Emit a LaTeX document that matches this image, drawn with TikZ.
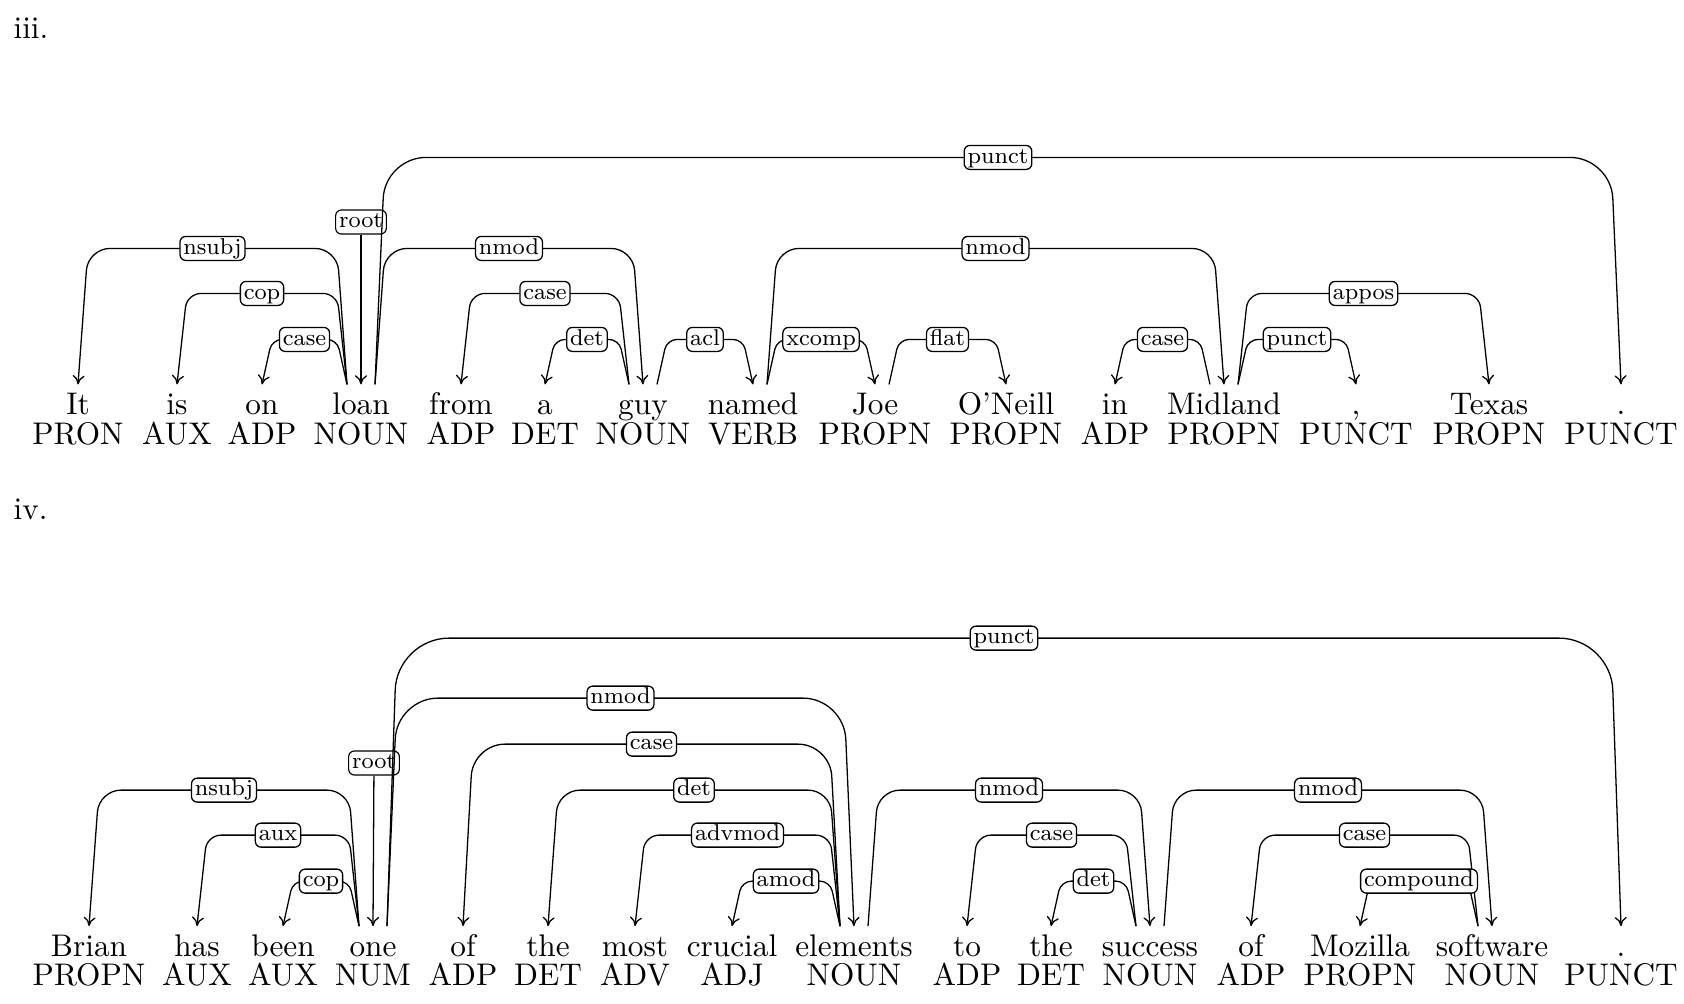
\documentclass[tikz,border=0pt]{standalone}
\usetikzlibrary{calc,arrows.meta}
\newcommand\depE[6]{\draw[dep, rounded corners=#6] ($(#1.north)+({#2*14},0)$) -- ++({#2*10},-#4) -- node[lab]{#5} ($(#3.north)+({#2*(-10)},-#4)$) -- (#3.north);}
\begin{document}
\begin{tikzpicture}[x=0.35pt,y=-0.35pt,
  wd/.style={inner sep=0pt, anchor=base, text height=10.43pt, font=\fontsize{10.95}{13.6}\selectfont},
  tg/.style={inner sep=0pt, anchor=base, font=\fontsize{10.95}{13.6}\selectfont},
  lab/.style={draw, fill=white, rounded corners=2pt, inner xsep=1.2pt, inner ysep=0.6pt,
    text height=5.6pt, text depth=1.6pt, font=\fontsize{8}{9.5}\selectfont},
  dep/.style={-{To[length=3.2pt,width=4.2pt]}, line width=0.45pt},
  num/.style={inner sep=0pt, anchor=base west, font=\fontsize{10.95}{13.6}\selectfont}]
\useasboundingbox (0,0) rectangle (1684,1004);
\node[num] (n1) at (13,39) {iii.};
\node[num] (n2) at (13,520) {iv.};
% row 1
\foreach \i/\x/\w/\t in {1/78/It/PRON,2/177/is/AUX,3/262/on/ADP,4/361/loan/NOUN,5/461/from/ADP,6/545/a/DET,7/643/guy/NOUN,8/753/named/VERB,9/875/Joe/PROPN,10/1006/O'Neill/PROPN,11/1115/in/ADP,12/1224/Midland/PROPN,13/1356/{,}/PUNCT,14/1489/Texas/PROPN,15/1621/./PUNCT}{
  \node[wd] (a\i) at (\x,414.8) {\w};
  \node[tg] (p\i) at (\x,444.3) {\t};
}
\node[lab] (r1) at (361,222) {root};
\draw[dep] (r1) -- (a4.north);
\depE{a4}{-1}{a1}{136}{nsubj}{7.7pt}
\depE{a4}{-1}{a2}{91}{cop}{4.9pt}
\depE{a4}{-1}{a3}{45}{case}{3.5pt}
\depE{a4}{1}{a7}{136}{nmod}{7.7pt}
\depE{a4}{1}{a15}{227}{punct}{14.35pt}
\depE{a7}{-1}{a5}{91}{case}{4.9pt}
\depE{a7}{-1}{a6}{45}{det}{3.5pt}
\depE{a7}{1}{a8}{45}{acl}{3.5pt}
\depE{a8}{1}{a9}{45}{xcomp}{3.5pt}
\depE{a8}{1}{a12}{136}{nmod}{7.7pt}
\depE{a9}{1}{a10}{45}{flat}{3.5pt}
\depE{a12}{-1}{a11}{45}{case}{3.5pt}
\depE{a12}{1}{a13}{45}{punct}{3.5pt}
\depE{a12}{1}{a14}{91}{appos}{4.9pt}
% row 2
\foreach \i/\x/\w/\t in {1/89/Brian/PROPN,2/197/has/AUX,3/283/been/AUX,4/373/one/NUM,5/463/of/ADP,6/548/the/DET,7/635/most/ADV,8/732/crucial/ADJ,9/854/elements/NOUN,10/967/to/ADP,11/1051/the/DET,12/1150/success/NOUN,13/1251/of/ADP,14/1360/Mozilla/PROPN,15/1492/software/NOUN,16/1621/./PUNCT}{
  \node[wd] (b\i) at (\x,956.5) {\w};
  \node[tg] (q\i) at (\x,985.8) {\t};
}
\node[lab] (r2) at (374,763) {root};
\draw[dep] (r2) -- (b4.north);
\depE{b4}{-1}{b1}{136}{nsubj}{7.7pt}
\depE{b4}{-1}{b2}{91}{aux}{4.9pt}
\depE{b4}{-1}{b3}{45}{cop}{3.5pt}
\depE{b4}{1}{b16}{288}{punct}{18.2pt}
\depE{b4}{1}{b9}{228}{nmod}{14.35pt}
\depE{b9}{-1}{b5}{182}{case}{11.2pt}
\depE{b9}{-1}{b6}{136}{det}{7.7pt}
\depE{b9}{-1}{b7}{91}{advmod}{4.9pt}
\depE{b9}{-1}{b8}{45}{amod}{3.5pt}
\depE{b9}{1}{b12}{136}{nmod}{7.7pt}
\depE{b12}{-1}{b10}{91}{case}{4.9pt}
\depE{b12}{-1}{b11}{45}{det}{3.5pt}
\depE{b12}{1}{b15}{136}{nmod}{7.7pt}
\depE{b15}{-1}{b13}{91}{case}{4.9pt}
\depE{b15}{-1}{b14}{45}{compound}{3.5pt}
\end{tikzpicture}
\end{document}
